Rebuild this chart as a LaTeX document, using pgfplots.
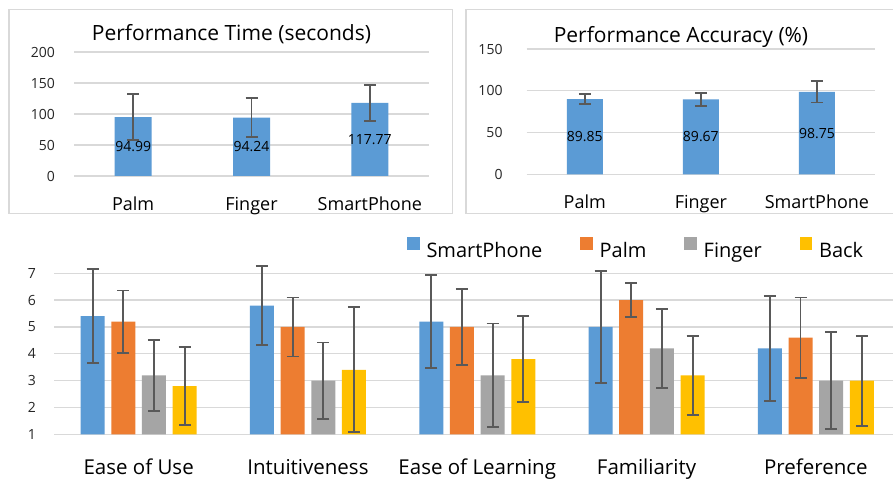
\documentclass[border=0pt]{standalone}
\usepackage{pgfplots}
\usepackage{pgfplotstable}
\pgfplotsset{compat=1.18}
\usepackage{fontspec}
\setmainfont{Open Sans}
\definecolor{cBlue}{HTML}{5B9BD5}
\definecolor{cOrange}{HTML}{ED7D31}
\definecolor{cGray}{HTML}{A5A5A5}
\definecolor{cGold}{HTML}{FFC000}
\definecolor{cErr}{HTML}{595959}
\definecolor{cGrid}{HTML}{D9D9D9}
\definecolor{cTick}{HTML}{262626}

\pgfplotstableread{
x y e
0 94.99 37
1 94.24 31
2 117.77 29
}\timetab
\pgfplotstableread{
x y e
0 89.85 6.2
1 89.67 8
2 98.75 12.8
}\acctab
\pgfplotstableread{
x sp spe pa pae fi fie ba bae
0 5.4 1.75 5.2 1.16 3.2 1.33 2.8 1.47
1 5.8 1.47 5.0 1.10 3.0 1.42 3.4 2.33
2 5.2 1.73 5.0 1.42 3.2 1.93 3.8 1.60
3 5.0 2.10 6.0 0.63 4.2 1.48 3.2 1.47
4 4.2 1.95 4.6 1.50 3.0 1.80 3.0 1.68
}\ratings

\pgfplotsset{
  mybase/.style={
    scale only axis,
    axis line style={draw=none},
    major tick length=0pt,
    tick style={draw=none},
    ymajorgrids,
    major grid style={cGrid, line width=1.3pt},
    /pgf/number format/assume math mode=true,
    yticklabel style={anchor=east, inner sep=0pt, text=cTick, font=\fontsize{14}{16}\selectfont},
    xticklabel style={anchor=base, inner sep=0pt, text=black},
  },
  eb/.style={error bars/.cd, y dir=both, y explicit,
    error bar style={line width=1.9pt, color=cErr},
    error mark options={rotate=90, mark size=6pt, line width=1.9pt, color=cErr},
    /pgfplots/.cd},
  sqleg/.style={legend image code/.code={\draw[##1,draw=none] (0pt,0.8pt) rectangle (12.7pt,13.5pt);}},
}

\begin{document}
\begin{tikzpicture}
\useasboundingbox (0,0) rectangle (893pt,479pt);
\clip (0,0) rectangle (893pt,479pt);
\fill[white] (0,0) rectangle (893pt,479pt);

% panel frames
\draw[cGrid, line width=1.3pt] (9pt,265.7pt) rectangle (452.3pt,469.7pt);
\draw[cGrid, line width=1.3pt] (466pt,265.7pt) rectangle (905pt,469.7pt);

% titles
\node[anchor=base, inner sep=0pt, font=\fontsize{21}{25}\selectfont] at (231.5pt,438pt) {Performance Time (seconds)};
\node[anchor=base, inner sep=0pt, font=\fontsize{21}{25}\selectfont] at (681pt,436.3pt) {Performance Accuracy (\%)};

% Performance time
\begin{axis}[mybase, at={(74pt,303pt)}, anchor=south west,
  width=355pt, height=124pt,
  xmin=-0.5, xmax=2.5, ymin=0, ymax=200, ytick={0,50,...,200},
  xtick={0,1,2}, xticklabels={Palm,Finger,SmartPhone},
  yticklabel style={xshift=-19pt},
  xticklabel style={yshift=-34.1pt, font=\fontsize{18}{21}\selectfont}]
\addplot[ybar, bar width=37pt, fill=cBlue, draw=none, eb] table[x=x, y=y, y error=e] {\timetab};
\addplot[draw=none, mark=none, nodes near coords, point meta=explicit symbolic,
  nodes near coords style={anchor=center, inner sep=0pt, font=\fontsize{14}{16}\selectfont}]
  coordinates {(0,47.495)[94.99] (1,47.12)[94.24] (2,58.885)[117.77]};
\end{axis}

% Performance accuracy
\begin{axis}[mybase, at={(526.7pt,304.7pt)}, anchor=south west,
  width=348.3pt, height=125.3pt,
  xmin=-0.5, xmax=2.5, ymin=0, ymax=150, ytick={0,50,...,150},
  xtick={0,1,2}, xticklabels={Palm,Finger,SmartPhone},
  yticklabel style={xshift=-24pt},
  xticklabel style={yshift=-34.6pt, font=\fontsize{18}{21}\selectfont}]
\addplot[ybar, bar width=36pt, fill=cBlue, draw=none, eb] table[x=x, y=y, y error=e] {\acctab};
\addplot[draw=none, mark=none, nodes near coords, point meta=explicit symbolic,
  nodes near coords style={anchor=center, inner sep=0pt, font=\fontsize{14}{16}\selectfont}]
  coordinates {(0,44.925)[89.85] (1,44.835)[89.67] (2,49.375)[98.75]};
\end{axis}

% Ratings
\begin{axis}[mybase, at={(54pt,44.7pt)}, anchor=south west,
  width=846.5pt, height=174.42pt,
  ybar=6.67pt, bar width=24pt,
  xmin=-0.5, xmax=4.5, ymin=1, ymax=7.5, ytick={1,...,7},
  xtick={0,1,2,3,4},
  xticklabels={Ease of Use, Intuitiveness, Ease of Learning, Familiarity, Preference},
  yticklabel style={xshift=-18pt},
  xticklabel style={yshift=-39.7pt, font=\fontsize{20.5}{24}\selectfont},
  legend columns=4,
  legend style={at={(0.417,1.068)}, anchor=west, draw=none, fill=none, inner sep=0pt,
    font=\fontsize{20}{24}\selectfont,
    nodes={inner sep=0pt},
    /tikz/every odd column/.append style={column sep=6.6pt},
    /tikz/every even column/.append style={column sep=38pt}},
  ]
\addplot[fill=cBlue, draw=none, sqleg, eb] table[x=x, y=sp, y error=spe] {\ratings};
\addplot[fill=cOrange, draw=none, sqleg, eb] table[x=x, y=pa, y error=pae] {\ratings};
\addplot[fill=cGray, draw=none, sqleg, eb] table[x=x, y=fi, y error=fie] {\ratings};
\addplot[fill=cGold, draw=none, sqleg, eb] table[x=x, y=ba, y error=bae] {\ratings};
\legend{SmartPhone, Palm, Finger, Back}
\end{axis}
\end{tikzpicture}
\end{document}
